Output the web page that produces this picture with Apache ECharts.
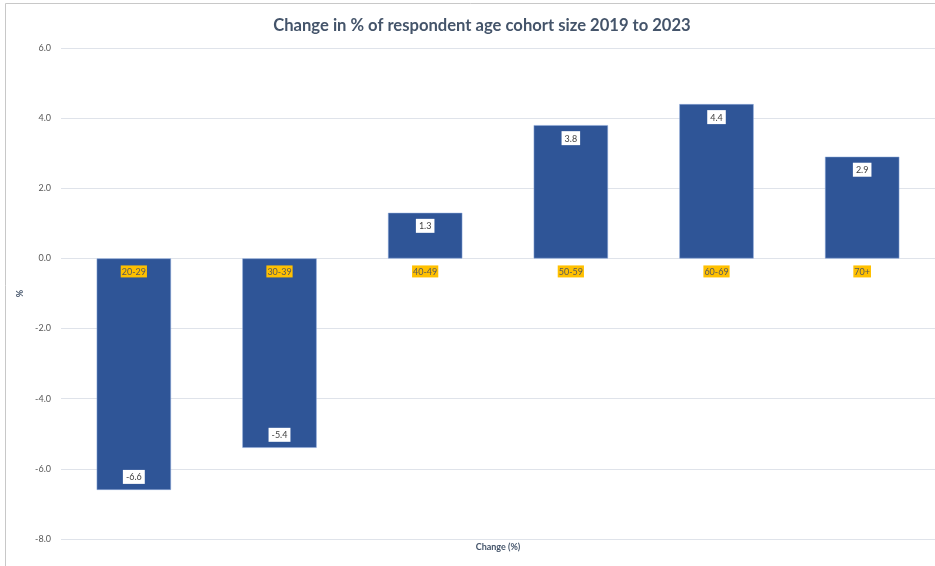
<!DOCTYPE html>
<html>
<head>
<meta charset="utf-8">
<script src="https://cdn.jsdelivr.net/npm/echarts@6/dist/echarts.min.js"></script>
<style>
  html, body { margin: 0; padding: 0; background: #fff; }
  #chart { width: 935px; height: 566px; }
</style>
</head>
<body>
<div id="chart"></div>
<script>
// Age cohorts and their change in share (percentage points), 2019 -> 2023
const ageGroups = ['20-29', '30-39', '40-49', '50-59', '60-69', '70+'];
const changeValues = [-6.6, -5.4, 1.3, 3.8, 4.4, 2.9];
const yTicks = { min: -8, max: 6, interval: 2 };

const chart = echarts.init(document.getElementById('chart'));

const barData = changeValues.map(v => ({
  value: v,
  label: { position: v >= 0 ? 'insideTop' : 'insideBottom' }
}));

// invisible anchors on the zero line that carry the cohort names
const zeroLineAnchors = ageGroups.map(c => [c, 0]);

chart.setOption({
  animation: false,
  backgroundColor: '#ffffff',
  title: [{
    text: 'Change in % of respondent age cohort size 2019 to 2023',
    left: 477,
    textAlign: 'center',
    top: 12,
    textStyle: {
      fontFamily: 'Lato',
      fontWeight: 'bold',
      fontSize: 16.6,
      color: '#44546A'
    }
  }, {
    // horizontal axis title under the plot
    text: 'Change (%)',
    left: 498,
    textAlign: 'center',
    top: 543,
    padding: 0,
    textStyle: {
      fontFamily: 'Lato',
      fontWeight: 'bold',
      fontSize: 9,
      color: '#44546A'
    }
  }],
  graphic: [{
    type: 'rect',
    shape: { x: 5.5, y: 3.5, width: 1000, height: 1000 },
    style: { fill: 'none', stroke: '#c8c8c8', lineWidth: 1 },
    silent: true,
    z: -10
  }],
  grid: { left: 61, right: 0, top: 48, bottom: 27 },
  xAxis: {
    type: 'category',
    data: ageGroups,
    axisLine: { show: false },
    axisTick: { show: false },
    axisLabel: { show: false }
  },
  yAxis: {
    type: 'value',
    min: yTicks.min,
    max: yTicks.max,
    interval: yTicks.interval,
    name: '%',
    nameLocation: 'middle',
    nameRotate: 90,
    nameGap: 24,
    nameTextStyle: {
      fontFamily: 'Lato',
      fontWeight: 'bold',
      fontSize: 9,
      color: '#44546A'
    },
    axisLine: { show: false },
    axisTick: { show: false },
    axisLabel: {
      margin: 10,
      fontFamily: 'Lato',
      fontSize: 9,
      color: '#595959',
      formatter: v => v.toFixed(1)
    },
    splitLine: { lineStyle: { color: '#dfe3ea', width: 1 } }
  },
  series: [{
    type: 'bar',
    data: barData,
    barWidth: '51%',
    itemStyle: { color: '#2F5597', borderColor: '#8faadc', borderWidth: 0.5 },
    label: {
      show: true,
      distance: 6,
      fontFamily: 'Lato',
      fontSize: 9,
      color: '#404040',
      backgroundColor: '#ffffff',
      padding: [3, 3, 2, 3],
      formatter: p => p.value.toFixed(1)
    }
  }, {
    // cohort names drawn just below the zero line
    type: 'scatter',
    data: zeroLineAnchors,
    symbolSize: 0,
    silent: true,
    z: 5,
    itemStyle: { opacity: 1 },
    label: {
      show: true,
      position: 'bottom',
      distance: 7,
      opacity: 1,
      fontFamily: 'Lato',
      fontSize: 9,
      color: '#595959',
      backgroundColor: '#FFC000',
      padding: [2, 1, 1, 1],
      formatter: p => p.value[0]
    }
  }]
});
</script>
</body>
</html>
